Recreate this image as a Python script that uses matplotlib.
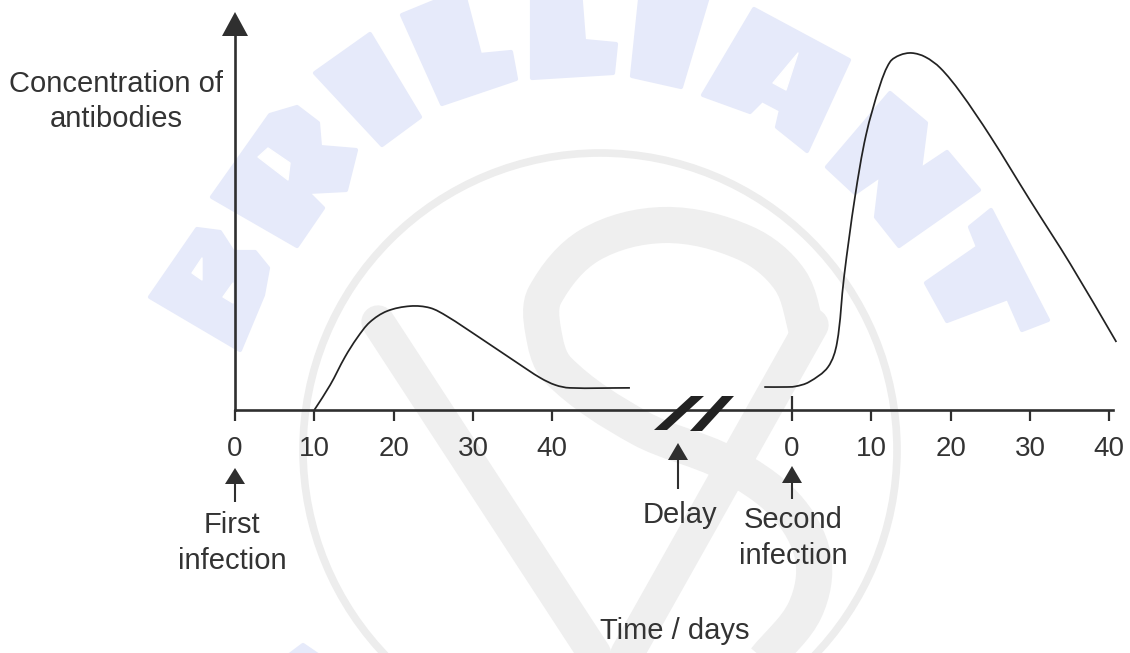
import numpy as np
import matplotlib
matplotlib.use("Agg")
import matplotlib.pyplot as plt
from matplotlib.path import Path
from matplotlib.patches import PathPatch, Polygon, Circle

plt.rcParams['font.family'] = ['Liberation Sans', 'DejaVu Sans']

# ---------- data ----------
first_days = [10.0, 12.0, 13.87, 15.4, 17.0, 19.17, 22.1, 24.6, 26.7, 30.9, 35.6, 38.5, 40.4, 42.2, 49.8]
first_conc = [0.0, 7.0, 14.85, 20.2, 24.6, 27.7, 29.1, 28.6, 26.3, 20.2, 13.2, 9.0, 7.0, 6.2, 6.2]
second_days = [-3.5, -1.0, 0.4, 2.14, 4.54, 5.67, 6.56, 7.94, 9.33, 11.1, 12.36, 13.6, 15.1, 16.8, 18.7, 21.2, 25.0, 30.0, 35.1, 40.9]
second_conc = [6.44, 6.44, 6.6, 7.84, 12.04, 18.77, 37.25, 59.66, 77.0, 91.0, 97.5, 99.4, 100.0, 98.9, 95.8, 89.1, 76.7, 58.8, 40.9, 19.05]
tick_days = [0, 10, 20, 30, 40]
SECOND_OFFSET = 70.24

W, H = 1130, 653
PX_PER_DAY = 7.93
PX_PER_UNIT = 3.57
X0, Y0 = 235, 410
INK = '#2f2f2f'
TEXT = '#333333'
BLUE = '#e6eafa'
GREY = '#efefef'


def px_x(p):
    return (p - X0) / PX_PER_DAY


def px_y(p):
    return (Y0 - p) / PX_PER_UNIT


def smooth_path(xs, ys, sx=1.0, sy=1.0):
    """Smooth curve through the given points, as Bezier segments (chord-scaled tangents)."""
    pts = np.column_stack([xs, ys]).astype(float)
    scale = np.array([sx, sy])
    n = len(pts)
    chord = np.linalg.norm(np.diff(pts * scale, axis=0), axis=1)
    tang = np.zeros_like(pts)
    for i in range(n):
        a = max(i - 1, 0)
        b = min(i + 1, n - 1)
        tang[i] = (pts[b] - pts[a]) / (np.linalg.norm((pts[b] - pts[a]) * scale) + 1e-9)
    verts, codes = [pts[0]], [Path.MOVETO]
    for i in range(n - 1):
        verts += [pts[i] + tang[i] * chord[i] / 3, pts[i + 1] - tang[i + 1] * chord[i] / 3, pts[i + 1]]
        codes += [Path.CURVE4] * 3
    return Path(verts, codes)


fig = plt.figure(figsize=(W / 100, H / 100), dpi=100, facecolor='white')

# ---------- background watermark (pixel space) ----------
wm = fig.add_axes([0, 0, 1, 1], zorder=0)
wm.set_xlim(0, W)
wm.set_ylim(H, 0)
wm.axis('off')

letters = [
    [(150, 297), (197, 229), (220, 232), (233, 252), (255, 252), (268, 268), (263, 295), (240, 350)],
    [(212, 197), (270, 115), (297, 107), (318, 123), (320, 147), (356, 150), (346, 190), (307, 192), (323, 208), (297, 246)],
    [(315, 73), (370, 34), (420, 117), (382, 145)],
    [(402, 15), (463, -10), (480, 55), (511, 52), (516, 79), (442, 104)],
    [(532, -10), (580, -10), (584, 41), (616, 44), (613, 73), (532, 78)],
    [(641, -10), (710, -10), (681, 87), (632, 76)],
    [(754, 9), (849, 60), (807, 151), (777, 127), (781, 110), (762, 100), (750, 112), (703, 95)],
    [(890, 93), (926, 123), (920, 170), (947, 152), (979, 190), (899, 246), (876, 217), (881, 175), (855, 193), (827, 167)],
    [(991, 210), (1048, 320), (1022, 330), (1008, 298), (947, 321), (926, 283), (978, 247), (970, 227)],
    [(283, 660), (303, 645), (325, 660)],
]
holes = [
    [(192, 273), (202, 258), (202, 280)],
    [(223, 297), (233, 283), (233, 303)],
    [(258, 157), (268, 148), (290, 163), (288, 180)],
    [(798, 53), (786, 90), (773, 83)],
]
for poly in letters:
    wm.add_patch(Polygon(poly, closed=True, facecolor=BLUE, edgecolor=BLUE,
                         linewidth=3, joinstyle='round', zorder=1))
for poly in holes:
    wm.add_patch(Polygon(poly, closed=True, facecolor='white', edgecolor='white',
                         linewidth=1, joinstyle='round', zorder=2))

wm.add_patch(Circle((600, 450), 297, fill=False, edgecolor='#ededed', linewidth=5.5, zorder=1))
wm.plot([378, 605], [322, 670], color=GREY, lw=24, solid_capstyle='round', zorder=1)
wm.plot([812, 618], [325, 670], color=GREY, lw=24, solid_capstyle='round', zorder=1)
loop_x = [808, 790, 745, 665, 590, 545, 543, 558, 640, 726, 785, 813, 805, 765]
loop_y = [335, 280, 243, 225, 245, 295, 330, 370, 428, 463, 505, 557, 610, 660]
wm.add_patch(PathPatch(smooth_path(loop_x, loop_y), fill=False, edgecolor=GREY,
                       linewidth=26, capstyle='butt', zorder=1))

# ---------- main chart ----------
ax = fig.add_axes([0, 0, 1, 1], zorder=1)
ax.patch.set_alpha(0)
ax.set_xlim(px_x(0), px_x(W))
ax.set_ylim(px_y(H), px_y(0))

for s in ('top', 'right'):
    ax.spines[s].set_visible(False)
ax.spines['bottom'].set_position(('data', 0))
ax.spines['left'].set_position(('data', 0))
ax.spines['bottom'].set_bounds(0, px_x(1113))
ax.spines['left'].set_bounds(0, px_y(30))
for s in ('bottom', 'left'):
    ax.spines[s].set_linewidth(1.9)
    ax.spines[s].set_color(INK)

ticks = tick_days + [SECOND_OFFSET + d for d in tick_days]
ax.set_xticks(ticks)
ax.set_xticklabels([str(d) for d in tick_days] * 2)
ax.set_yticks([])
ax.tick_params(axis='x', direction='out', length=8, width=1.6, color=INK,
               labelsize=20, labelcolor=TEXT, pad=10.5)

ax.add_patch(PathPatch(smooth_path(first_days, first_conc, PX_PER_DAY, PX_PER_UNIT), fill=False,
                       edgecolor='#222222', linewidth=1.25))
ax.add_patch(PathPatch(smooth_path(np.array(second_days) + SECOND_OFFSET, second_conc, PX_PER_DAY, PX_PER_UNIT),
                       fill=False, edgecolor='#222222', linewidth=1.25))

# taller tick at the second infection
ax.plot([SECOND_OFFSET] * 2, [0, px_y(396)], color=INK, lw=1.6, solid_capstyle='butt')

# y-axis arrow head
ax.add_patch(Polygon([(px_x(222), px_y(36)), (px_x(248), px_y(36)), (px_x(235), px_y(12))],
                     closed=True, facecolor=INK, edgecolor='none', zorder=3))

# axis break
for bl, br, tl, tr, yb, yt in [(654, 667, 691, 704, 430, 396), (690, 702, 722, 734, 431, 396)]:
    ax.add_patch(Polygon([(px_x(bl), px_y(yb)), (px_x(br), px_y(yb)),
                          (px_x(tr), px_y(yt)), (px_x(tl), px_y(yt))],
                         closed=True, facecolor='#222222', edgecolor='none', zorder=3))

# small arrows
for xp, tip, base, end in [(235, 468, 484, 502), (678, 443, 460, 489), (792, 466, 483, 499)]:
    ax.plot([px_x(xp)] * 2, [px_y(base), px_y(end)], color=INK, lw=1.5, solid_capstyle='butt')
    ax.add_patch(Polygon([(px_x(xp - 10), px_y(base)), (px_x(xp + 10), px_y(base)), (px_x(xp), px_y(tip))],
                         closed=True, facecolor=INK, edgecolor='none', zorder=3))

# text
labels = [
    ('Concentration of', 116, 84),
    ('antibodies', 116, 119),
    ('First', 232, 525),
    ('infection', 232, 561),
    ('Delay', 680, 515),
    ('Second', 793, 520),
    ('infection', 793, 556),
    ('Time / days', 675, 631),
]
for s, xp, yp in labels:
    ax.text(px_x(xp), px_y(yp), s, ha='center', va='center', fontsize=21, color=TEXT)

fig.savefig('out.png', dpi=100)
